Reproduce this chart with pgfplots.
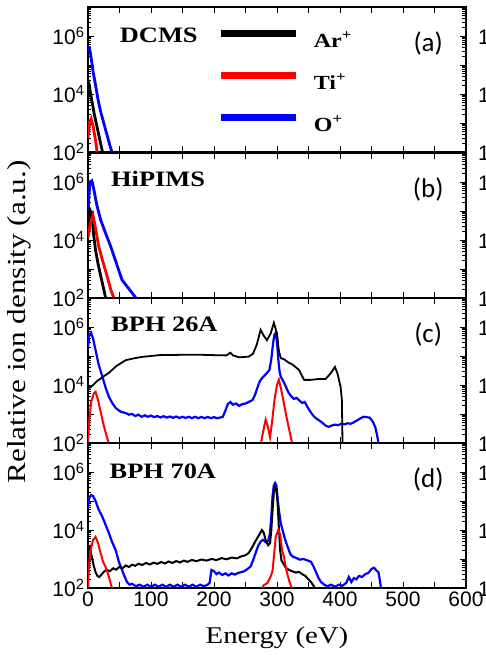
\documentclass[border=0pt]{standalone}
\usepackage{fontspec}
\setmainfont{Liberation Serif}[FakeStretch=1.2]
\newfontfamily\sansf{Liberation Sans}
\newfontfamily\calf{Carlito}
\usepackage{pgfplots}
\pgfplotsset{compat=1.18}
\newcommand\tickf{\sansf\fontsize{21}{21}\selectfont}
\newcommand\namef{\bfseries\fontsize{22}{22}\selectfont}
\newcommand\legf{\bfseries\fontsize{20}{20}\selectfont}
\newcommand\letf{\calf\fontsize{27}{27}\selectfont}
\definecolor{pblue}{RGB}{0,0,255}
\definecolor{pred}{RGB}{255,0,0}
\pgfplotsset{
 stackpanel/.style={
  scale only axis, width=378pt, height=145pt,
  xmin=0, xmax=600,
  xtick={0,50,...,600}, xticklabels={},
  ytick={1e2,1e3,1e4,1e5,1e6,1e7},
  yticklabels={10\textsuperscript{2},{},10\textsuperscript{4},{},10\textsuperscript{6},{}},
  minor ytick={2e2,3e2,4e2,5e2,6e2,7e2,8e2,9e2,2e3,3e3,4e3,5e3,6e3,7e3,8e3,9e3,2e4,3e4,4e4,5e4,6e4,7e4,8e4,9e4,2e5,3e5,4e5,5e5,6e5,7e5,8e5,9e5,2e6,3e6,4e6,5e6,6e6,7e6,8e6,9e6},
  tick align=inside,
  major tick length=6pt, minor tick length=3.5pt,
  axis line style={line width=1.3pt},
  tick style={black, line width=0.9pt},
  tick label style={font=\tickf},
 },
 ar/.style={black, line width=#1},
 ti/.style={pred, line width=#1},
 ox/.style={pblue, line width=#1},
}
\begin{document}
\begin{tikzpicture}
% ---------------- (a) DCMS
\begin{axis}[stackpanel, ymode=log, ymin=1e2, ymax=1e7, at={(88pt,507pt)}, anchor=south west,
  legend style={at={(axis description cs:0.343,0.84)}, anchor=north west, draw=none, fill=none,
    inner sep=0pt, row sep=25pt, column sep=14pt, font=\legf,
    nodes={inner sep=0pt, text height=15pt, text depth=0pt}},
  legend cell align=left,
  legend image code/.code={\draw[#1] (0pt,6pt) -- (75pt,6pt);}]
\addlegendimage{black, line width=7pt}\addlegendentry{Ar\textsuperscript{+}}
\addlegendimage{pred, line width=7pt}\addlegendentry{Ti\textsuperscript{+}}
\addlegendimage{pblue, line width=7pt}\addlegendentry{O\textsuperscript{+}}
\addplot[ox=2.8pt, forget plot] coordinates {(0,4e5)(2,4e5)(4,2.5e5)(8,6e4)(12,2e4)(16,6.3e3)(20,2.5e3)(25,1e3)(30,4e2)(35,1.6e2)(38,1e2)(41,6e1)};
\addplot[ar=2.8pt, forget plot] coordinates {(0,1.6e4)(2,2e4)(5,8e3)(10,2e3)(15,6.3e2)(20,2e2)(24,8e1)};
\addplot[ti=2.8pt, forget plot] coordinates {(0,3e2)(2,1e3)(5,1.4e3)(8,8e2)(12,2.5e2)(15,8e1)};
\node[anchor=west, font=\namef] at (rel axis cs:0.075,0.807) {DCMS};
\node[font=\letf] at (rel axis cs:0.9,0.75) {(a)};
\end{axis}
% ---------------- (b) HiPIMS
\begin{axis}[stackpanel, ymode=log, ymin=1e2, ymax=1e7, at={(88pt,361pt)}, anchor=south west]
\addplot[ox=2.8pt] coordinates {(0,1e5)(3,1e6)(6,1.1e6)(9,6e5)(14,1.6e5)(20,5e4)(28,1.7e4)(36,6e3)(45,1.6e3)(54,4.2e2)(62,2.5e2)(70,1.5e2)(76,1e2)(80,6e1)};
\addplot[ar=2.8pt] coordinates {(0,3e4)(3,1.1e5)(6,8e4)(9,1.5e4)(12,4.5e3)(16,1.5e3)(20,6e2)(25,2e2)(28,1e2)(31,6e1)};
\addplot[ti=2.8pt] coordinates {(0,1.2e4)(4,4e4)(8,7e4)(12,2.5e4)(17,6e3)(23,2e3)(30,6e2)(36,2e2)(41,1e2)(44,6e1)};
\node[anchor=west, font=\namef] at (rel axis cs:0.052,0.82) {HiPIMS};
\node[font=\letf] at (rel axis cs:0.9,0.75) {(b)};
\end{axis}
% ---------------- (c) BPH 26A
\begin{axis}[stackpanel, ymode=log, ymin=1e2, ymax=1e7, at={(88pt,216pt)}, anchor=south west]
\addplot[ox=2.2pt] coordinates {(0,2e5)(2,5e5)(5,6.3e5)(8,4e5)(12,1.6e5)(17,5e4)(23,1.9e4)(28,8e3)(33,4e3)(38,2.5e3)(44,1.6e3)(52,1.2e3)(60,1.07e3)(65,9.5e2)(70,1e3)(75,8.5e2)(80,9.5e2)(85,8e2)(90,9e2)(95,8e2)(100,8.8e2)(105,7.8e2)(110,8.5e2)(115,7.6e2)(120,8.4e2)(125,7.5e2)(130,8.2e2)(135,7.4e2)(140,8.2e2)(145,7.3e2)(150,8e2)(155,7.3e2)(160,8e2)(165,7.2e2)(170,8e2)(175,7.2e2)(180,7.9e2)(185,7.2e2)(190,7.9e2)(195,7.2e2)(200,7.8e2)(205,7.1e2)(210,7.6e2)(214,8e2)(218,1.3e3)(222,2.2e3)(226,2.6e3)(230,2.1e3)(235,2.3e3)(240,1.9e3)(245,2.2e3)(250,2.3e3)(255,2.6e3)(261,3e3)(265,4.5e3)(268,7e3)(271,1.1e4)(274,1.5e4)(277,1.8e4)(280,2.1e4)(284,2.6e4)(288,3.3e4)(291,8e4)(294,3e5)(296,5.5e5)(298,6.3e5)(300,3e5)(302,8e4)(304,3e4)(306,1.9e4)(309,1.5e4)(312,1.1e4)(316,7e3)(319,5.2e3)(323,4e3)(327,3.3e3)(331,3.6e3)(335,3e3)(340,2.4e3)(344,2.6e3)(348,1.8e3)(352,1.3e3)(357,9e2)(362,7e2)(367,6e2)(372,5e2)(377,4e2)(382,3.6e2)(387,4e2)(392,4.3e2)(397,4.1e2)(402,4.6e2)(407,4.4e2)(412,4.8e2)(417,4.6e2)(422,5.2e2)(427,6e2)(432,7e2)(437,8e2)(442,7.8e2)(447,7.5e2)(452,5.5e2)(456,3.5e2)(459,1.8e2)(461,1e2)(463,5e1)};
\addplot[ar=1.8pt] coordinates {(0,8e3)(3,8e3)(8,1e4)(15,1.4e4)(25,2e4)(33,2.6e4)(45,4.5e4)(60,7.2e4)(75,8.5e4)(86,9.3e4)(100,1e5)(113,1.07e5)(150,1.1e5)(180,1.1e5)(200,1.07e5)(220,1.05e5)(226,1.3e5)(230,1.05e5)(240,9e4)(255,9.5e4)(262,1.2e5)(268,2.5e5)(274,8e5)(279,5e5)(284,3.5e5)(290,6e5)(295,1.4e6)(300,6e5)(303,1.5e5)(306,8.5e4)(312,7.5e4)(318,6e4)(325,5e4)(335,3.3e4)(343,1.5e4)(353,1.5e4)(365,1.6e4)(377,1.6e4)(385,2.5e4)(392,4.2e4)(396,2.5e4)(401,8.5e3)(403,3e3)(404,1e2)(406,5e1)};
\addplot[ti=2pt] coordinates {(0,1e2)(2,6e2)(5,2.5e3)(9,5e3)(12,5.8e3)(16,3e3)(20,1.2e3)(25,4e2)(30,1.6e2)(33,1e2)(35,5e1)};
\addplot[ti=2pt] coordinates {(274,8e1)(276,1.5e2)(280,4e2)(282,6.3e2)(285,4e2)(289,1.6e2)(292,5e2)(296,3e3)(300,1e4)(303,1.5e4)(306,8e3)(310,3e3)(315,8e2)(320,2.5e2)(324,1e2)(326,5e1)};
\node[anchor=west, font=\namef] at (rel axis cs:0.052,0.82) {BPH 26A};
\node[font=\letf] at (rel axis cs:0.9,0.75) {(c)};
\end{axis}
% ---------------- (d) BPH 70A
\begin{axis}[stackpanel, ymode=log, ymin=1e2, ymax=1e7, at={(88pt,71pt)}, anchor=south west,
  xticklabels={0,{},100,{},200,{},300,{},400,{},500,{},600}]
\addplot[ox=2.2pt] coordinates {(0,6e4)(2,1.3e5)(5,1.6e5)(8,1.5e5)(12,1e5)(17,5e4)(23,2.8e4)(28,1.5e4)(33,8e3)(38,4e3)(44,2e3)(49,8e2)(54,4.2e2)(58,2.5e2)(62,1.6e2)(66,1.3e2)(70,1.4e2)(76,1.15e2)(82,1.3e2)(88,1.1e2)(94,1.3e2)(100,1.1e2)(106,1.3e2)(112,1.1e2)(118,1.3e2)(124,1.1e2)(130,1.3e2)(136,1.1e2)(142,1.3e2)(148,1.1e2)(154,1.3e2)(160,1.1e2)(166,1.3e2)(172,1.1e2)(178,1.3e2)(184,1.15e2)(190,1.3e2)(193,1.5e2)(196,4.2e2)(200,3.8e2)(204,3e2)(208,3.4e2)(213,2.8e2)(218,3.2e2)(223,2.7e2)(228,3.2e2)(233,2.9e2)(238,3.3e2)(243,3.5e2)(248,3.8e2)(253,4.5e2)(258,5.5e2)(262,9e2)(266,1.6e3)(270,2.8e3)(274,4e3)(278,4.6e3)(282,3.8e3)(286,4.2e3)(289,8e3)(291,3e4)(293,1.5e5)(295,3.5e5)(297,4.2e5)(299,3.5e5)(301,1.2e5)(303,5e4)(306,1.7e4)(310,8e3)(313,4.6e3)(317,2.6e3)(321,1.5e3)(325,1.2e3)(330,1.1e3)(336,9.5e2)(342,1e3)(348,9e2)(354,8e2)(358,5.5e2)(362,3.5e2)(366,2.2e2)(370,1.6e2)(375,1.3e2)(380,1.15e2)(386,1.3e2)(392,1.1e2)(398,1.3e2)(404,1.2e2)(410,1.5e2)(414,2.4e2)(418,1.6e2)(422,2.2e2)(426,2e2)(430,2.6e2)(435,2.4e2)(440,3e2)(445,3.3e2)(450,4.5e2)(454,5e2)(458,4e2)(461,3.5e2)(463,2e2)(465,1e2)(467,5e1)};
\addplot[ar=2pt] coordinates {(0,1e2)(1,2e3)(3,2.5e3)(6,1.2e3)(9,6e2)(12,3.5e2)(15,2.6e2)(18,2.4e2)(22,3e2)(26,3.8e2)(30,4.2e2)(35,3.8e2)(40,4.8e2)(45,4.3e2)(50,5.4e2)(55,4.8e2)(60,6e2)(65,5.3e2)(70,6.4e2)(75,5.8e2)(80,6.9e2)(86,6.2e2)(92,7.3e2)(98,6.5e2)(104,7.5e2)(110,6.8e2)(116,7.9e2)(122,7e2)(128,8.2e2)(134,7.3e2)(140,8.5e2)(146,7.6e2)(152,8.8e2)(158,8e2)(165,9.3e2)(172,8.4e2)(180,9.6e2)(188,8.8e2)(196,1e3)(204,9.2e2)(212,1.07e3)(220,9.8e2)(228,1.12e3)(236,1.05e3)(244,1.25e3)(250,1.35e3)(255,1.6e3)(260,2.4e3)(264,3.5e3)(268,5e3)(272,7e3)(276,1e4)(279,8e3)(282,4.5e3)(286,3e3)(289,3.5e3)(291,1e4)(293,5e4)(295,2e5)(297,3e5)(299,2.5e5)(301,8e4)(303,1.2e4)(305,2e3)(307,9e2)(310,7e2)(314,5e2)(319,4.2e2)(324,3.8e2)(330,3.4e2)(335,3.6e2)(340,3e2)(345,2.6e2)(350,2e2)(355,1.5e2)(359,1.1e2)(362,6e1)};
\addplot[ti=2pt] coordinates {(0,1e2)(1,4e2)(4,2e3)(8,4.5e3)(12,5.8e3)(16,3.5e3)(20,1.6e3)(24,8e2)(28,5.2e2)(33,2.5e2)(38,1e2)(40,5e1)};
\addplot[ti=2pt] coordinates {(275,5e1)(278,1.2e2)(285,1.5e2)(290,2.5e2)(293,4e2)(296,2e3)(298,5.8e3)(302,1e4)(305,7e3)(308,2e3)(311,1.2e3)(315,4e2)(319,1.9e2)(323,1e2)(326,5e1)};
\node[anchor=west, font=\namef] at (rel axis cs:0.048,0.807) {BPH 70A};
\node[font=\letf] at (rel axis cs:0.9,0.75) {(d)};
\end{axis}
% labels
\node[rotate=90, font=\fontsize{26}{26}\selectfont] at (19pt,337pt) {Relative ion density (a.u.)};
\node[font=\fontsize{24}{24}\selectfont] at (277pt,21pt) {Energy (eV)};
% cropped tick labels of the neighbouring figure at the right edge
\foreach \b in {507,361,216,71}{
  \node[anchor=west, inner sep=0pt, font=\tickf] at (478pt,\b pt) {10\textsuperscript{2}};
  \node[anchor=west, inner sep=0pt, font=\tickf] at (478pt,\b pt+58pt) {10\textsuperscript{4}};
  \node[anchor=west, inner sep=0pt, font=\tickf] at (478pt,\b pt+116pt) {10\textsuperscript{6}};
}
\pgfresetboundingbox
\path (0pt,0pt) rectangle (486pt,659pt);
\end{tikzpicture}
\end{document}
